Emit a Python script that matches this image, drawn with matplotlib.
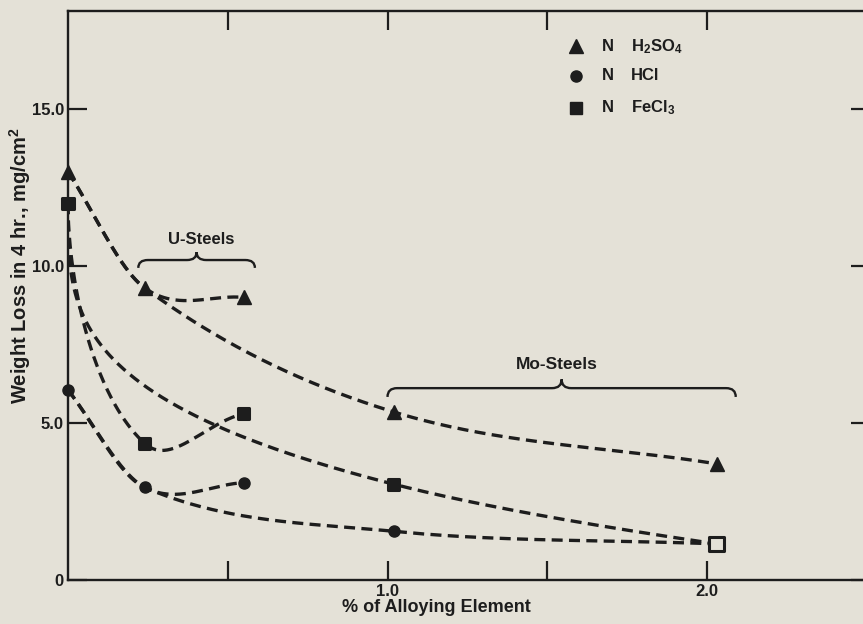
import matplotlib
matplotlib.use("Agg")
import matplotlib.pyplot as plt
import numpy as np
from matplotlib.path import Path
from matplotlib.patches import PathPatch

# % alloying element: bare iron, two U-steels, two Mo-steels
alloy_pct = [0.0, 0.24, 0.55, 1.02, 2.03]

# weight loss in 4 hr, mg/cm2
h2so4 = [13.0, 9.3, 9.0, 5.35, 3.7]
hcl = [6.05, 2.95, 3.1, 1.55, 1.15]
fecl3 = [12.0, 4.35, 5.3, 3.05, 1.15]

# which points each hand-drawn curve joins
u_curve = [0, 1, 2]
mo_curve_h2so4 = [0, 1, 3, 4]
mo_curve_hcl = [0, 1, 3, 4]
mo_curve_fecl3 = [0, 3, 4]

u_range = (0.22, 0.585)
mo_range = (1.0, 2.09)

PAPER = "#e4e1d7"
INK = "#1d1d1d"
FONT = ["Liberation Sans", "DejaVu Sans"]
plt.rcParams["font.family"] = FONT
plt.rcParams["font.weight"] = "bold"
plt.rcParams["mathtext.fontset"] = "custom"
plt.rcParams["mathtext.rm"] = "Liberation Sans:bold"
plt.rcParams["mathtext.it"] = "Liberation Sans:bold"
plt.rcParams["mathtext.bf"] = "Liberation Sans:bold"
plt.rcParams["mathtext.default"] = "rm"


def smooth(idx, ys, bend=1.0, n=120):
    # cubic hermite through the picked points, in x**bend space
    x = np.array([alloy_pct[i] for i in idx], float)
    y = np.array([ys[i] for i in idx], float)
    u = x ** bend
    m = np.empty_like(y)
    m[0] = (y[1] - y[0]) / (u[1] - u[0])
    m[-1] = (y[-1] - y[-2]) / (u[-1] - u[-2])
    if len(y) > 2:
        m[1:-1] = (y[2:] - y[:-2]) / (u[2:] - u[:-2])
    t = np.linspace(0, 1, n)
    h00 = 2 * t**3 - 3 * t**2 + 1
    h10 = t**3 - 2 * t**2 + t
    h01 = -2 * t**3 + 3 * t**2
    h11 = t**3 - t**2
    xs, yv = [], []
    for i in range(len(u) - 1):
        h = u[i + 1] - u[i]
        yy = h00 * y[i] + h10 * h * m[i] + h01 * y[i + 1] + h11 * h * m[i + 1]
        uu = u[i] + t * h
        xs.append(uu ** (1.0 / bend))
        yv.append(yy)
    return np.concatenate(xs), np.concatenate(yv)


def brace(ax, x0, x1, y, h, w):
    xm = (x0 + x1) / 2
    verts = [(x0, y - h), (x0, y), (x0 + w, y), (xm - w, y), (xm, y), (xm, y + h),
             (xm, y), (xm + w, y), (x1 - w, y), (x1, y), (x1, y - h)]
    codes = [Path.MOVETO, Path.CURVE3, Path.CURVE3, Path.LINETO, Path.CURVE3, Path.CURVE3,
             Path.CURVE3, Path.CURVE3, Path.LINETO, Path.CURVE3, Path.CURVE3]
    ax.add_patch(PathPatch(Path(verts, codes), fill=False, edgecolor=INK, lw=1.7))


fig = plt.figure(figsize=(8.63, 6.24), dpi=100, facecolor=PAPER)
ax = fig.add_axes([68 / 863, 44 / 624, 802 / 863, 569 / 624])
ax.set_facecolor(PAPER)
ax.set_xlim(0, 802 / 319.5)
ax.set_ylim(0, 569 / 31.4)

dash = dict(color=INK, lw=2.4, ls=(0, (3.3, 1.9)), dash_capstyle="butt")
curves = [
    (u_curve, h2so4, 1.0), (mo_curve_h2so4, h2so4, 1.0),
    (u_curve, hcl, 1.0), (mo_curve_hcl, hcl, 1.0),
    (u_curve, fecl3, 0.5), (mo_curve_fecl3, fecl3, 0.3),
]
for idx, ys, bend in curves:
    cx, cy = smooth(idx, ys, bend)
    ax.plot(cx, cy, **dash, zorder=2)

ax.plot(alloy_pct, h2so4, ls="none", marker="^", ms=10.5, color=INK, zorder=3, clip_on=False)
ax.plot(alloy_pct, hcl, ls="none", marker="o", ms=8, color=INK, zorder=3, clip_on=False)
# where a square sits on a circle the original shows an open square
shared = np.isclose(fecl3, hcl)
face = [PAPER if s else INK for s in shared]
ax.scatter(alloy_pct, fecl3, marker="s", s=[110 if s else 64 for s in shared], c=face,
           edgecolors=INK, linewidths=2.2, zorder=4, clip_on=False)

brace(ax, u_range[0], u_range[1], 10.19, 0.25, 0.03)
brace(ax, mo_range[0], mo_range[1], 6.11, 0.28, 0.03)
ax.text(0.417, 10.83, "U-Steels", ha="center", va="center", fontsize=12, color=INK)
ax.text(1.53, 6.85, "Mo-Steels", ha="center", va="center", fontsize=12.5, color=INK)

# legend drawn by hand as in the original
rows = [("^", 10, r"H$_2$SO$_4$", 0.938), ("o", 8, "HCl", 0.886), ("s", 8, r"FeCl$_3$", 0.830)]
for mk, ms, name, yy in rows:
    ax.plot([0.633], [yy], transform=ax.transAxes, marker=mk, ms=ms, color=INK, ls="none")
    ax.text(0.673, yy, "N", transform=ax.transAxes, ha="center", va="center",
            fontsize=12, color=INK)
    ax.text(0.702, yy, name, transform=ax.transAxes, ha="left", va="center",
            fontsize=12, color=INK)

for s in ax.spines.values():
    s.set_color(INK)
    s.set_linewidth(1.7)

ax.set_xticks([0.5, 1.0, 1.5, 2.0])
ax.set_xticklabels(["", "1.0", "", "2.0"])
ax.set_yticks([0, 5, 10, 15])
ax.set_yticklabels(["0", "5.0", "10.0", "15.0"])
ax.tick_params(axis="both", direction="in", length=14, width=1.6, color=INK,
               labelcolor=INK, labelsize=12, top=True, right=True)
ax.tick_params(axis="x", pad=3)
ax.tick_params(axis="y", pad=3)

fig.text(436 / 863, 1 - 607 / 624, "% of Alloying Element", ha="center", va="center",
         fontsize=13, color=INK)
fig.text(20 / 863, 1 - 266 / 624, r"Weight Loss in 4 hr., mg/cm$^2$", ha="center", va="center",
         rotation=90, fontsize=14.5, color=INK)

fig.savefig("out.png", dpi=100, facecolor=PAPER)
